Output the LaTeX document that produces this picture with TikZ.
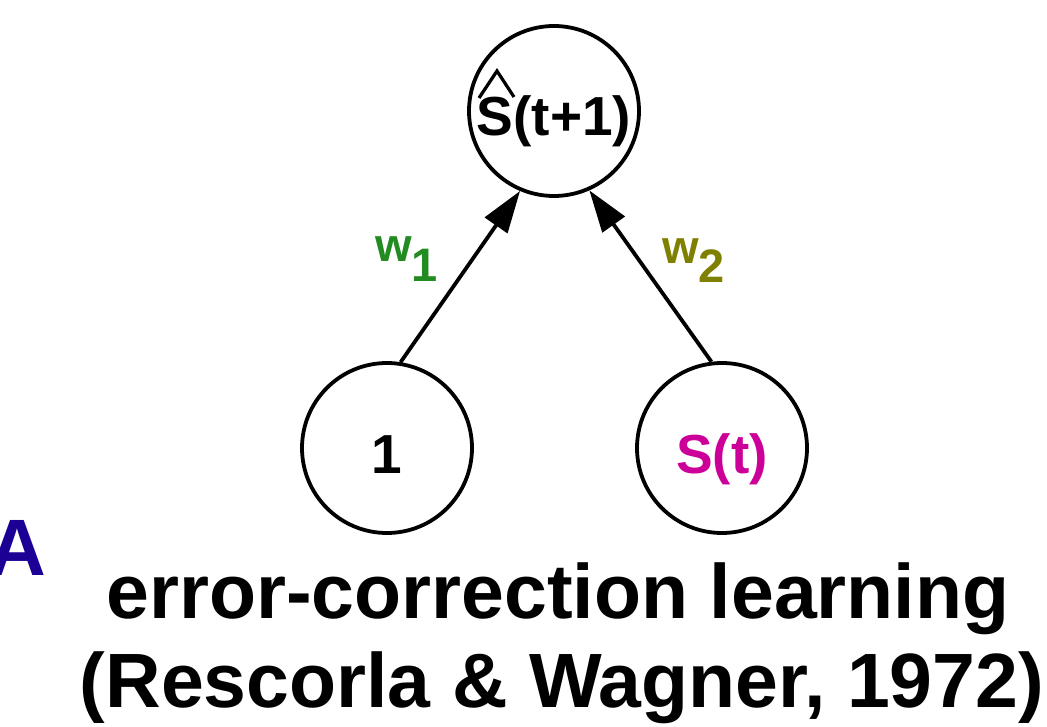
\documentclass[tikz,border=0pt]{standalone}
\usepackage{fontspec}
\setmainfont{Liberation Sans}
\usetikzlibrary{arrows.meta}
\definecolor{wgreen}{RGB}{34,139,34}
\definecolor{wolive}{RGB}{128,128,0}
\definecolor{smag}{RGB}{204,0,153}
\definecolor{aindigo}{RGB}{28,0,150}
\begin{document}
\begin{tikzpicture}[x=1pt,y=-1pt,
  unit/.style={circle,draw,line width=3.8pt,minimum size=170pt,inner sep=0pt,
    font=\fontsize{55}{60}\selectfont\bfseries,text height=50pt,text depth=0pt},
  conn/.style={line width=3.8pt,-{Triangle[length=42pt,width=27pt]}},
  wlab/.style={anchor=base west,inner sep=0pt,font=\fontsize{47}{50}\selectfont\bfseries},
  title/.style={anchor=base,inner sep=0pt,font=\fontsize{77}{80}\selectfont\bfseries}]
\useasboundingbox (0,0) rectangle (1047,727);
\node[unit] (top) at (554,111) {S(t+1)};
\node[unit] (one) at (387,448) {1};
\node[unit,text=smag] (st) at (722,448) {S(t)};
\draw[line width=3.2pt,line join=miter] ([shift={(-75,-13)}]top.center) coordinate (h1)
  -- ([shift={(-57,-40)}]top.center) coordinate (h2)
  -- ([shift={(-40,-14)}]top.center) coordinate (h3);
\draw[conn] (one.81) -- (top.247.5);
\draw[conn] (st.97) -- (top.294);
\node[wlab,text=wgreen] (w1) at (375,262) {w\raisebox{-20pt}{1}};
\node[wlab,text=wolive] (w2) at (662,264) {w\raisebox{-19pt}{2}};
\node[title] (t1) at (558,618) {error-correction learning};
\node[title] (t2) at (562,707) {(Rescorla \& Wagner, 1972)};
\node[anchor=base east,inner sep=0pt,text=aindigo,font=\fontsize{80}{84}\selectfont\bfseries] (lab) at (46,575) {A};
\end{tikzpicture}
\end{document}
